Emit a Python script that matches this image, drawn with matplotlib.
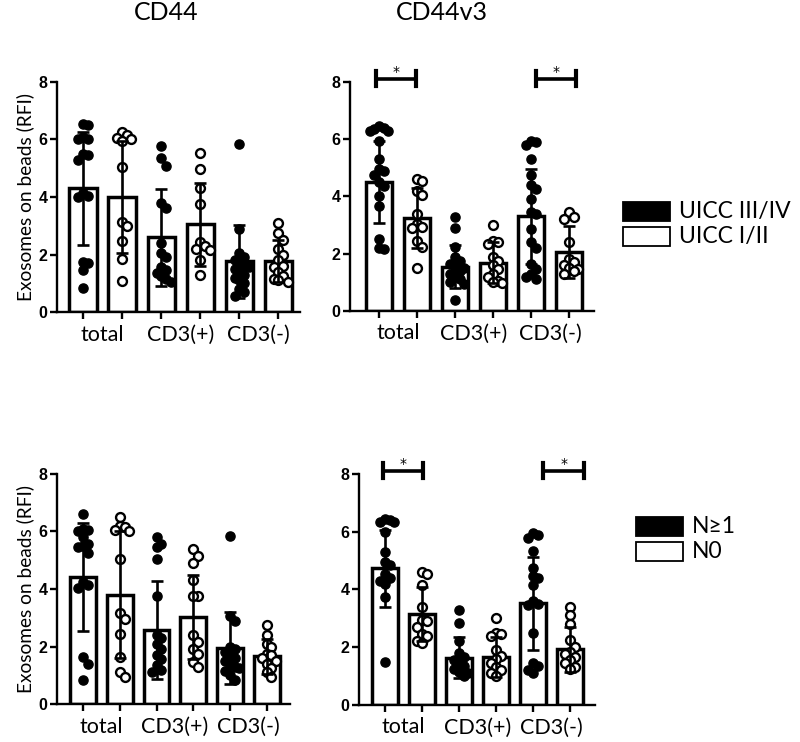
import numpy as np
import matplotlib
matplotlib.use("Agg")
import matplotlib.pyplot as plt
from matplotlib.patches import Rectangle

plt.rcParams['font.family'] = ['Lato', 'DejaVu Sans']

# group labels (each has a filled-dot bar and an open-dot bar)
groups = ['total', 'CD3(+)', 'CD3(-)']

# ---- CD44, UICC III/IV vs I/II (top left) ----
cd44_uicc_mean = [4.3, 4.0, 2.6, 3.05, 1.76, 1.78]
cd44_uicc_sd = [1.97, 1.95, 1.68, 1.45, 1.26, 0.73]
cd44_uicc_pts = [
    [6.55, 6.5, 6.1, 6.0, 6.0, 5.5, 5.45, 5.3, 4.15, 4.05, 4.0, 1.75, 1.7, 1.45, 0.85],
    [6.25, 6.15, 6.05, 6.0, 5.95, 5.05, 3.12, 3.0, 2.47, 1.85, 1.09],
    [5.77, 5.36, 5.08, 3.78, 3.63, 2.39, 2.05, 1.9, 1.58, 1.47, 1.35, 1.24, 1.14, 1.06],
    [5.54, 4.96, 4.3, 3.75, 2.42, 2.28, 2.19, 2.14, 1.82, 1.29],
    [5.85, 2.9, 2.05, 1.9, 1.8, 1.7, 1.6, 1.55, 1.5, 1.4, 1.3, 1.2, 1.1, 1.0, 0.8, 0.7, 0.55],
    [3.1, 2.75, 2.5, 2.2, 2.0, 1.8, 1.6, 1.55, 1.4, 1.25, 1.15, 1.1, 1.05],
]

# ---- CD44v3, UICC (top right) ----
v3_uicc_mean = [4.5, 3.26, 1.54, 1.68, 3.31, 2.06]
v3_uicc_sd = [1.44, 1.05, 0.75, 0.72, 1.66, 0.9]
v3_uicc_pts = [
    [6.45, 6.4, 6.35, 6.3, 6.3, 5.95, 5.3, 4.95, 4.9, 4.75, 4.5, 4.35, 4.0, 3.65, 2.5, 2.2, 2.15],
    [4.6, 4.55, 4.2, 4.05, 3.4, 3.05, 2.95, 2.9, 2.45, 2.25, 1.5],
    [3.3, 2.9, 2.25, 1.9, 1.75, 1.65, 1.55, 1.5, 1.4, 1.3, 1.2, 1.1, 1.0, 0.95, 0.4],
    [3.0, 2.45, 2.4, 2.35, 1.9, 1.75, 1.6, 1.45, 1.3, 1.2, 1.05, 1.0, 0.98],
    [5.95, 5.9, 5.8, 5.3, 4.75, 4.4, 4.25, 3.9, 3.45, 3.4, 2.85, 2.4, 2.2, 1.65, 1.45, 1.3, 1.2, 1.1],
    [3.45, 3.3, 3.2, 2.4, 1.8, 1.7, 1.6, 1.5, 1.45, 1.4, 1.3],
]

# ---- CD44, N>=1 vs N0 (bottom left) ----
cd44_n_mean = [4.43, 3.8, 2.58, 3.01, 1.94, 1.66]
cd44_n_sd = [1.88, 2.2, 1.7, 1.46, 1.25, 0.6]
cd44_n_pts = [
    [6.6, 6.1, 6.05, 6.0, 5.8, 5.55, 5.5, 5.45, 5.25, 4.25, 4.15, 4.05, 1.65, 1.4, 0.85],
    [6.5, 6.2, 6.15, 6.05, 6.0, 5.05, 3.15, 2.95, 2.45, 1.65, 1.1, 0.95],
    [5.8, 5.55, 5.45, 5.05, 3.75, 2.4, 2.3, 2.1, 1.9, 1.7, 1.55, 1.35, 1.2, 1.1],
    [5.4, 5.15, 4.9, 4.3, 3.75, 3.75, 2.4, 2.15, 1.9, 1.75, 1.45, 1.3],
    [5.85, 3.05, 2.9, 2.0, 1.9, 1.8, 1.7, 1.6, 1.5, 1.4, 1.3, 1.25, 1.15, 1.0, 0.85],
    [2.75, 2.4, 2.1, 2.0, 1.75, 1.7, 1.6, 1.5, 1.4, 1.25, 1.1, 0.95],
]

# ---- CD44v3, N>=1 vs N0 (bottom right) ----
v3_n_mean = [4.73, 3.15, 1.64, 1.67, 3.52, 1.93]
v3_n_sd = [1.32, 0.92, 0.7, 0.7, 1.6, 0.78]
v3_n_pts = [
    [6.45, 6.4, 6.35, 6.35, 6.0, 5.3, 4.95, 4.85, 4.55, 4.4, 4.3, 4.2, 3.75, 1.5],
    [4.6, 4.55, 4.15, 3.4, 2.95, 2.9, 2.7, 2.45, 2.4, 2.2, 2.15],
    [3.3, 2.85, 2.2, 1.8, 1.65, 1.55, 1.45, 1.35, 1.25, 1.15, 1.1, 1.0],
    [3.0, 2.5, 2.45, 2.4, 1.9, 1.7, 1.6, 1.45, 1.3, 1.2, 1.1, 1.0],
    [5.95, 5.9, 5.8, 5.35, 4.75, 4.45, 4.4, 4.15, 3.6, 3.5, 3.45, 2.5, 1.45, 1.35, 1.2, 1.1],
    [3.4, 3.1, 2.8, 2.25, 2.0, 1.85, 1.75, 1.65, 1.55, 1.45, 1.3, 1.25],
]


def swarm(vals, xscale, yscale, diam):
    # simple beeswarm: place each point as near the centre as it can go
    order = np.argsort(vals)[::-1]
    placed = []
    offs = np.zeros(len(vals))
    steps = [0]
    for k in range(1, 8):
        steps += [k, -k]
    for i in order:
        y = vals[i]
        for s in steps:
            x = s * diam * 0.55
            ok = all(((x - px) * xscale) ** 2 + ((y - py) * yscale) ** 2 >= diam ** 2
                     for px, py in placed)
            if ok:
                break
        placed.append((x, y))
        offs[i] = x / xscale
    return offs


def panel(rect, xlim, means, sds, pts, brackets=None, ylabel=True):
    ax = fig.add_axes(rect)
    pos = np.arange(6)
    ax.set_xlim(*xlim)
    ax.set_ylim(0, 8)
    ax_w_px = rect[2] * 800
    xscale = ax_w_px / (xlim[1] - xlim[0])
    yscale = rect[3] * 742 / 8
    ax.bar(pos, means, width=0.7, color='white', edgecolor='black', linewidth=2.5, zorder=1)
    for i in range(6):
        v = np.array(pts[i])
        dx = swarm(v, xscale, yscale, 8.5)
        if i % 2 == 0:
            ax.plot(pos[i] + dx, v, 'o', ms=6.6, mfc='black', mec='black', mew=1, zorder=2, clip_on=False)
        else:
            ax.plot(pos[i] + dx, v, 'o', ms=6.4, mfc='white', mec='black', mew=1.7, zorder=2, clip_on=False)
    ax.errorbar(pos, means, yerr=sds, fmt='none', ecolor='black', elinewidth=1.9,
                capsize=4.5, capthick=1.9, zorder=3)
    for sp in ['top', 'right']:
        ax.spines[sp].set_visible(False)
    for sp in ['left', 'bottom']:
        ax.spines[sp].set_linewidth(1.7)
    ax.set_yticks([0, 2, 4, 6, 8])
    ax.set_yticklabels(['0', '2', '4', '6', '8'], fontfamily='Liberation Sans',
                       fontweight='bold', fontsize=11.5)
    ax.tick_params(axis='y', length=5, width=1.7, pad=2)
    ax.set_xticks(pos)
    ax.set_xticklabels([''] * 6)
    ax.tick_params(axis='x', which='major', length=5, width=1.7)
    ax.set_xticks([0.5, 2.5, 4.5], minor=True)
    ax.set_xticklabels(groups, minor=True, fontsize=15.5)
    ax.tick_params(axis='x', which='minor', length=0, pad=9)
    if ylabel:
        ax.set_ylabel('Exosomes on beads (RFI)', fontsize=13.8, labelpad=3)
    if brackets:
        for x0, x1 in brackets:
            ax.plot([x0, x1], [8.12, 8.12], color='black', lw=2.6, clip_on=False, zorder=4)
            ax.plot([x0, x0], [7.85, 8.38], color='black', lw=3, clip_on=False, zorder=4)
            ax.plot([x1, x1], [7.85, 8.38], color='black', lw=3, clip_on=False, zorder=4)
            ax.text((x0 + x1) / 2, 8.12, '*', ha='center', va='bottom', fontsize=10,
                    fontfamily='DejaVu Sans', clip_on=False)
    return ax


fig = plt.figure(figsize=(8, 7.42), dpi=100)

panel([0.0713, 0.5795, 0.304, 0.31], (-0.667, 5.56), cd44_uicc_mean, cd44_uicc_sd, cd44_uicc_pts)
panel([0.4375, 0.5809, 0.305, 0.3086], (-0.76, 5.66), v3_uicc_mean, v3_uicc_sd, v3_uicc_pts,
      brackets=[(-0.08, 0.98), (4.13, 5.18)], ylabel=False)
panel([0.0713, 0.0512, 0.291, 0.31], (-0.71, 5.63), cd44_n_mean, cd44_n_sd, cd44_n_pts)
panel([0.449, 0.0499, 0.295, 0.3113], (-0.70, 5.68), v3_n_mean, v3_n_sd, v3_n_pts,
      brackets=[(-0.06, 1.03), (4.27, 5.38)], ylabel=False)

fig.text(166 / 800, 1 - 12 / 742, 'CD44', ha='center', va='center', fontsize=18)
fig.text(442 / 800, 1 - 12 / 742, 'CD44v3', ha='center', va='center', fontsize=18)


def legend(x, y_top, labels):
    w, h = 47 / 800, 19 / 742
    for k, (lab, fc) in enumerate(zip(labels, ['black', 'white'])):
        y = 1 - (y_top + k * (19 + 6) + 19) / 742
        fig.patches.append(Rectangle((x / 800, y), w, h, transform=fig.transFigure,
                                     facecolor=fc, edgecolor='black', linewidth=1.3))
        fig.text((x + 56) / 800, y + h / 2, lab, ha='left', va='center', fontsize=16.5)


legend(623, 202, ['UICC III/IV', 'UICC I/II'])
legend(636, 517, ['N\u22651', 'N0'])

fig.savefig('out.png', dpi=100)
